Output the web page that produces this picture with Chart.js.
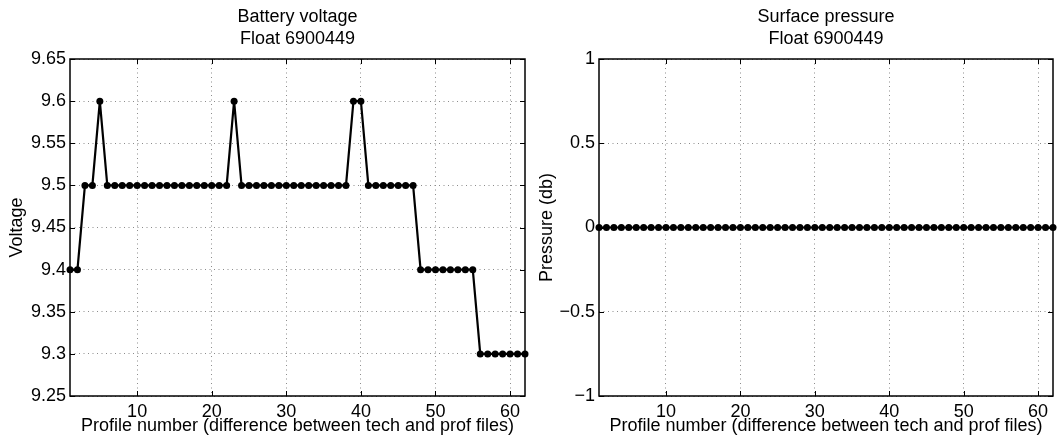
<!DOCTYPE html>
<html>
<head>
<meta charset="utf-8">
<script src="https://cdn.jsdelivr.net/npm/chart.js@4.4.1/dist/chart.umd.min.js"></script>
<style>
  html, body { margin: 0; padding: 0; background: #fff; }
  #wrap { position: relative; width: 1057px; height: 445px; overflow: hidden; }
  canvas { position: absolute; top: 0; }
  #c1 { left: 0; }
  #c2 { left: 530px; }
</style>
</head>
<body>
<div id="wrap">
  <canvas id="c1" width="530" height="445"></canvas>
  <canvas id="c2" width="527" height="445"></canvas>
</div>
<script>
// ---- Data ----
const profiles = [1,2,3,4,5,6,7,8,9,10,11,12,13,14,15,16,17,18,19,20,21,22,23,24,25,26,27,28,29,30,31,32,33,34,35,36,37,38,39,40,41,42,43,44,45,46,47,48,49,50,51,52,53,54,55,56,57,58,59,60,61,62];
const voltage = [9.4,9.4,9.5,9.5,9.6,
  9.5,9.5,9.5,9.5,9.5,9.5,9.5,9.5,9.5,9.5,9.5,9.5,9.5,9.5,9.5,9.5,9.5,
  9.6,
  9.5,9.5,9.5,9.5,9.5,9.5,9.5,9.5,9.5,9.5,9.5,9.5,9.5,9.5,9.5,
  9.6,9.6,
  9.5,9.5,9.5,9.5,9.5,9.5,9.5,
  9.4,9.4,9.4,9.4,9.4,9.4,9.4,9.4,
  9.3,9.3,9.3,9.3,9.3,9.3,9.3];
const pressure = [0,0,0,0,0,0,0,0,0,0,0,0,0,0,0,0,0,0,0,0,0,0,0,0,0,0,0,0,0,0,0,0,0,0,0,0,0,0,0,0,0,0,0,0,0,0,0,0,0,0,0,0,0,0,0,0,0,0,0,0,0,0];
const xTicks = [10,20,30,40,50,60];
const voltageTicks = [9.25,9.3,9.35,9.4,9.45,9.5,9.55,9.6,9.65];
const pressureTicks = [-1,-0.5,0,0.5,1];
const voltageTitle = ['Battery voltage', 'Float 6900449'];
const pressureTitle = ['Surface pressure', 'Float 6900449'];
const xTitle = 'Profile number (difference between tech and prof files)';

const FONT = "'Liberation Sans', Arial, Helvetica, sans-serif";

const boxPlugin = {
  id: 'boxPlugin',
  afterDatasetsDraw(chart) {
    const ctx = chart.ctx, a = chart.chartArea;
    const xs = chart.scales.x, ys = chart.scales.y;
    ctx.save();
    ctx.strokeStyle = '#000';
    ctx.lineWidth = 1.5;
    ctx.strokeRect(a.left, a.top, a.right - a.left, a.bottom - a.top);
    ctx.lineWidth = 1;
    const tl = 5;
    ctx.beginPath();
    xs.ticks.forEach(t => {
      const p = Math.round(xs.getPixelForValue(t.value)) + 0.5;
      ctx.moveTo(p, a.bottom); ctx.lineTo(p, a.bottom - tl);
      ctx.moveTo(p, a.top); ctx.lineTo(p, a.top + tl);
    });
    ys.ticks.forEach(t => {
      const p = Math.round(ys.getPixelForValue(t.value)) + 0.5;
      ctx.moveTo(a.left, p); ctx.lineTo(a.left + tl, p);
      ctx.moveTo(a.right, p); ctx.lineTo(a.right - tl, p);
    });
    ctx.stroke();
    // titles centred over the plot area
    const lines = chart.options.plugins.areaTitle.lines;
    ctx.fillStyle = '#000';
    ctx.font = '18px ' + FONT;
    ctx.textAlign = 'center';
    ctx.textBaseline = 'middle';
    const cx = (a.left + a.right) / 2;
    lines.forEach((l, i) => ctx.fillText(l, cx, 17.3 + i * 21.6));
    ctx.restore();
  }
};

function makeChart(id, titleLines, yLabel, yVals, yTickVals, yMin, yMax, yFmt, yAxisWidth, padRight) {
  const pts = profiles.map((p, i) => ({ x: p, y: yVals[i] }));
  return new Chart(document.getElementById(id), {
    type: 'line',
    data: { datasets: [{
      data: pts,
      borderColor: '#000',
      backgroundColor: '#000',
      borderWidth: 2.2,
      pointRadius: 3.5,
      pointBackgroundColor: '#000',
      pointBorderColor: '#000',
      pointBorderWidth: 0,
      tension: 0,
      clip: false
    }]},
    options: {
      responsive: false,
      animation: false,
      devicePixelRatio: 1,
      layout: { padding: { left: 0, right: padRight, top: 59, bottom: 0 } },
      plugins: {
        legend: { display: false },
        tooltip: { enabled: false },
        title: { display: false },
        areaTitle: { lines: titleLines }
      },
      scales: {
        x: {
          type: 'linear',
          min: 1, max: 62,
          afterBuildTicks(s) { s.ticks = xTicks.map(v => ({ value: v })); },
          afterFit(s) { s.height = 49; },
          ticks: { color: '#000', font: { family: FONT, size: 18 }, padding: 5, maxRotation: 0, autoSkip: false },
          grid: { color: '#8c8c8c', drawTicks: false, lineWidth: 1 },
          border: { display: false, dash: [1, 3.5] },
          title: { display: true, text: xTitle, color: '#000', font: { family: FONT, size: 18, lineHeight: 1.2 }, padding: { top: 0, bottom: 8 } }
        },
        y: {
          type: 'linear',
          min: yMin, max: yMax,
          afterBuildTicks(s) { s.ticks = yTickVals.map(v => ({ value: v })); },
          afterFit(s) { s.width = yAxisWidth; },
          ticks: { color: '#000', font: { family: FONT, size: 18 }, padding: 4, callback: yFmt, autoSkip: false },
          grid: { color: '#8c8c8c', drawTicks: false, lineWidth: 1 },
          border: { display: false, dash: [1, 3.5] },
          title: { display: true, text: yLabel, color: '#000', font: { family: FONT, size: 18, lineHeight: 1.2 }, padding: { top: 6, bottom: 0 } }
        }
      }
    },
    plugins: [boxPlugin]
  });
}

makeChart('c1', voltageTitle, 'Voltage', voltage, voltageTicks, 9.25, 9.65,
  v => String(Number(v.toFixed(2))), 70, 5);
makeChart('c2', pressureTitle, 'Pressure (db)', pressure, pressureTicks, -1, 1,
  v => String(v).replace('-', '\u2212'), 69, 4);
</script>
</body>
</html>
